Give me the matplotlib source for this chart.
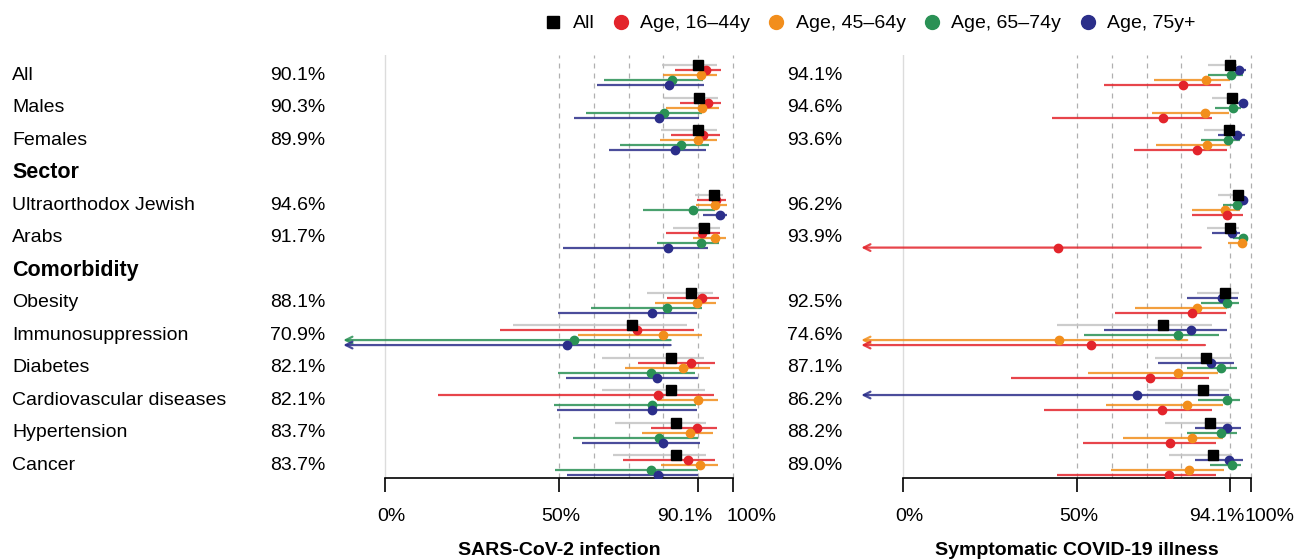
import numpy as np
import matplotlib
matplotlib.use("Agg")
import matplotlib.pyplot as plt
from matplotlib.lines import Line2D
from matplotlib import transforms

plt.rcParams['font.family'] = ['Liberation Sans', 'DejaVu Sans']

# rows of the table (headers are bold and have no estimates)
row_labels = ["All", "Males", "Females", "Sector", "Ultraorthodox Jewish", "Arabs",
              "Comorbidity", "Obesity", "Immunosuppression", "Diabetes",
              "Cardiovascular diseases", "Hypertension", "Cancer"]
header_labels = ["Sector", "Comorbidity"]

groups = ["All", "Age, 16\u201344y", "Age, 45\u201364y", "Age, 65\u201374y", "Age, 75y+"]

# SARS-CoV-2 infection (lower bounds < 0 run off the axis)
inf_all_est = [90.1, 90.3, 89.9, 94.6, 91.7, 88.1, 70.9, 82.1, 82.1, 83.7, 83.7]
inf_all_lo = [79.5, 80.3, 79.3, 89.2, 82.7, 75.2, 36.7, 62.5, 62.3, 66.1, 65.6]
inf_all_hi = [95.5, 95.8, 95.3, 97.2, 96.3, 94.3, 86.9, 91.7, 92.0, 92.4, 92.4]
inf_16_est = [92.4, 92.9, 91.3, 95.1, 91.2, 91.2, 72.5, 88.1, 78.4, 89.6, 87.2]
inf_16_lo = [83.3, 84.8, 82.2, 89.6, 80.7, 81.1, 33.0, 72.6, 15.3, 76.6, 68.5]
inf_16_hi = [96.5, 96.7, 96.3, 98.0, 96.3, 96.0, 88.8, 95.0, 94.6, 95.5, 94.8]
inf_45_est = [90.7, 91.0, 90.1, 94.9, 94.8, 89.6, 80.0, 85.7, 90.0, 87.6, 90.5]
inf_45_lo = [80.0, 80.7, 79.0, 89.4, 88.6, 77.6, 55.4, 69.0, 78.1, 73.9, 79.3]
inf_45_hi = [95.5, 96.0, 95.5, 98.2, 98.0, 95.1, 91.0, 93.4, 95.6, 94.3, 95.8]
inf_65_est = [82.5, 80.2, 85.1, 88.4, 90.8, 81.0, 54.3, 76.6, 76.8, 78.8, 76.6]
inf_65_lo = [62.9, 57.7, 67.5, 74.2, 78.2, 59.2, -40.0, 49.6, 48.6, 54.0, 48.9]
inf_65_hi = [91.5, 91.0, 93.2, 94.8, 96.0, 91.0, 82.1, 89.1, 89.4, 90.0, 90.0]
inf_75_est = [81.7, 78.8, 83.5, 96.3, 81.3, 76.8, 52.2, 78.1, 76.8, 79.9, 78.4]
inf_75_lo = [61.0, 54.3, 64.5, 91.3, 51.2, 49.6, -40.0, 52.0, 49.3, 56.5, 52.2]
inf_75_hi = [91.7, 90.3, 92.4, 98.4, 92.9, 89.6, 82.1, 90.0, 89.6, 90.5, 90.0]

# Symptomatic COVID-19 illness
ill_all_est = [94.1, 94.6, 93.6, 96.2, 93.9, 92.5, 74.6, 87.1, 86.2, 88.2, 89.0]
ill_all_lo = [87.7, 88.7, 86.5, 90.6, 87.5, 84.4, 44.2, 72.4, 70.1, 75.3, 76.5]
ill_all_hi = [95.9, 96.4, 94.9, 97.8, 96.6, 96.6, 88.7, 94.5, 93.8, 94.7, 94.7]
ill_16_est = [80.5, 74.8, 84.6, 93.0, 44.6, 83.0, 53.9, 71.0, 74.5, 76.7, 76.4]
ill_16_lo = [57.8, 42.7, 66.4, 83.0, -40.0, 60.9, -40.0, 31.0, 40.5, 51.8, 44.2]
ill_16_hi = [91.3, 88.7, 93.0, 97.6, 85.6, 92.8, 86.8, 88.0, 88.9, 90.1, 90.1]
ill_45_est = [87.1, 86.8, 87.5, 92.5, 97.5, 84.6, 44.9, 79.0, 81.5, 83.0, 82.2]
ill_45_lo = [72.1, 71.5, 72.7, 83.0, 93.5, 66.7, -40.0, 53.2, 58.3, 63.1, 59.8]
ill_45_hi = [94.0, 93.8, 94.0, 96.8, 98.8, 93.0, 81.7, 90.6, 91.9, 92.0, 92.2]
ill_65_est = [94.3, 95.0, 93.3, 96.1, 97.8, 93.0, 79.1, 91.3, 93.0, 91.3, 94.7]
ill_65_lo = [87.7, 89.7, 85.8, 92.0, 94.9, 85.6, 52.1, 81.5, 84.9, 81.5, 88.2]
ill_65_hi = [97.8, 97.3, 97.0, 97.6, 98.8, 96.6, 90.9, 96.1, 96.8, 96.1, 97.3]
ill_75_est = [96.6, 97.6, 95.9, 97.6, 94.7, 91.6, 82.8, 88.5, 67.2, 93.0, 93.8]
ill_75_lo = [93.5, 95.9, 90.6, 94.9, 88.7, 81.5, 57.9, 73.4, -40.0, 83.9, 83.9]
ill_75_hi = [98.6, 99.0, 98.3, 99.0, 97.0, 96.4, 93.0, 95.1, 93.5, 97.3, 97.6]

colors = ["black", "#e3242b", "#f28e1c", "#2a9155", "#2b2e8a"]
ci_colors = ["#c4c4c4", "#e3242b", "#f28e1c", "#2a9155", "#2b2e8a"]

XMIN, XMAX = -13, 104
ARROW_X = -12
STEP = 0.154


def draw_panel(ax, series, order, overall, title):
    data_rows = [i for i, lab in enumerate(row_labels) if lab not in header_labels]
    # reference lines
    ax.axvline(0, color="#dcdcdc", lw=1.0, zorder=0)
    for v in [50, 60, 70, 80, overall, 100]:
        ax.axvline(v, color="#b0b0b0", lw=0.9, ls=(0, (4, 4)), zorder=0)
    for slot, g in enumerate(order):
        est, lo, hi = series[g]
        for k, r in enumerate(data_rows):
            y = r + (slot - 2) * STEP
            if lo[k] < XMIN:
                ax.annotate("", xy=(ARROW_X, y), xytext=(hi[k], y),
                            arrowprops=dict(arrowstyle="->", color=ci_colors[g], lw=1.6,
                                            alpha=0.85, shrinkA=0, shrinkB=0,
                                            mutation_scale=12), zorder=2)
            else:
                ax.plot([lo[k], hi[k]], [y, y], color=ci_colors[g], lw=1.6,
                        alpha=0.85, solid_capstyle="butt", zorder=2)
        ys = [r + (slot - 2) * STEP for r in data_rows]
        if g == 0:
            ax.plot(est, ys, ls="none", marker="s", ms=7, color=colors[g], zorder=4)
        else:
            ax.plot(est, ys, ls="none", marker="o", ms=6, color=colors[g], zorder=3)

    ax.set_xlim(XMIN, XMAX)
    ax.set_ylim(len(row_labels) - 0.6, -0.62)
    for s in ["top", "right", "left"]:
        ax.spines[s].set_visible(False)
    ax.spines["bottom"].set_bounds(0, 100)
    ax.spines["bottom"].set_linewidth(1.2)
    ax.set_yticks([])
    ticks = [0, 50, overall, 100]
    ax.set_xticks(ticks)
    ax.set_xticklabels([""] * len(ticks))
    ax.tick_params(axis="x", length=10, width=1.2)
    trans = transforms.blended_transform_factory(ax.transData, ax.transAxes)
    labels = ["0%", "50%", f"{overall:.1f}%", "100%"]
    aligns = ["center", "center", "right", "left"]
    shifts = [6, 2, 14, -6]
    for t, lab, ha, dx in zip(ticks, labels, aligns, shifts):
        tr = transforms.offset_copy(trans, fig=ax.figure, x=dx, y=0, units="dots")
        ax.text(t, -0.09, lab, transform=tr, ha=ha, va="center", fontsize=14)
    ax.text(50, -0.172, title, transform=trans, ha="center", va="center",
            fontsize=14, fontweight="bold")


fig = plt.figure(figsize=(12.95, 5.59), dpi=100)
W, H = 1295, 559
ax1 = fig.add_axes([339.8 / W, (H - 478) / H, 407 / W, 423 / H])
ax2 = fig.add_axes([857.8 / W, (H - 478) / H, 407 / W, 423 / H])

inf_series = [(inf_all_est, inf_all_lo, inf_all_hi), (inf_16_est, inf_16_lo, inf_16_hi),
              (inf_45_est, inf_45_lo, inf_45_hi), (inf_65_est, inf_65_lo, inf_65_hi),
              (inf_75_est, inf_75_lo, inf_75_hi)]
ill_series = [(ill_all_est, ill_all_lo, ill_all_hi), (ill_16_est, ill_16_lo, ill_16_hi),
              (ill_45_est, ill_45_lo, ill_45_hi), (ill_65_est, ill_65_lo, ill_65_hi),
              (ill_75_est, ill_75_lo, ill_75_hi)]

draw_panel(ax1, inf_series, [0, 1, 2, 3, 4], inf_all_est[0], "SARS-CoV-2 infection")
draw_panel(ax2, ill_series, [0, 4, 3, 2, 1], ill_all_est[0], "Symptomatic COVID-19 illness")

# row labels and overall percentages
ytr = transforms.blended_transform_factory(fig.transFigure, ax1.transData)
k = 0
for i, lab in enumerate(row_labels):
    if lab in header_labels:
        fig.text(12 / W, i, lab, transform=ytr, ha="left", va="center",
                 fontsize=15.5, fontweight="bold")
    else:
        fig.text(12 / W, i, lab, transform=ytr, ha="left", va="center", fontsize=14)
        fig.text(270 / W, i, f"{inf_all_est[k]:.1f}%", transform=ytr, ha="left",
                 va="center", fontsize=14)
        fig.text(787 / W, i, f"{ill_all_est[k]:.1f}%", transform=ytr, ha="left",
                 va="center", fontsize=14)
        k += 1

handles = [Line2D([], [], ls="none", marker="s" if i == 0 else "o",
                  ms=9 if i == 0 else 10, color=c) for i, c in enumerate(colors)]
fig.legend(handles, groups, loc="upper right", bbox_to_anchor=(1213 / W, 1.005),
           ncol=5, frameon=False, fontsize=14, handletextpad=0.5,
           columnspacing=0.85, handlelength=1.0)

fig.savefig("out.png", dpi=100)
